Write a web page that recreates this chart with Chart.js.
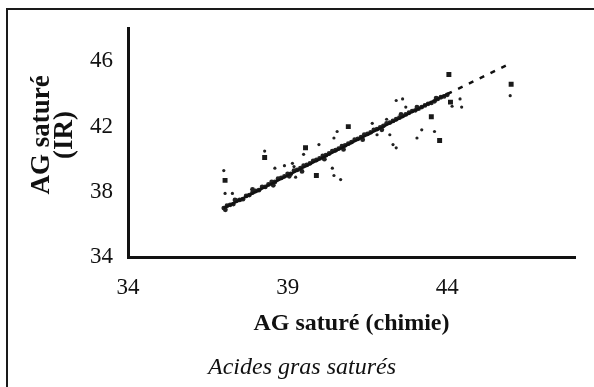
<!DOCTYPE html>
<html>
<head>
<meta charset="utf-8">
<script src="https://cdn.jsdelivr.net/npm/chart.js@4/dist/chart.umd.min.js"></script>
<style>
  body { margin: 0; background: #fff; }
  canvas { display: block; }
</style>
</head>
<body>
<canvas id="chart" width="594" height="387"></canvas>
<script>
// axis ticks
const xTicks = [34, 39, 44];
const yTicks = [34, 38, 42, 46];

// titles
const xTitle = 'AG saturé (chimie)';
const yTitle = ['AG saturé', '(IR)'];
const caption = 'Acides gras saturés';

// regression line (solid up to 44, dashed after)
const fitX = [37.0, 44.0, 45.9];
const fitY = [37.0, 44.0, 45.8];

// samples lying on the line
const bandX = [37.0, 37.05, 37.1, 37.2, 37.3, 37.35, 37.4, 37.5, 37.6, 37.7, 37.8, 37.9, 37.9, 38.0, 38.1, 38.2, 38.3, 38.4, 38.5, 38.55,
  38.6, 38.7, 38.8, 38.9, 39.0, 39.05, 39.1, 39.2, 39.3, 39.4, 39.45, 39.5, 39.6, 39.7, 39.8, 39.9, 40.0, 40.1, 40.15, 40.2,
  40.3, 40.4, 40.5, 40.6, 40.7, 40.75, 40.8, 40.9, 41.0, 41.1, 41.2, 41.3, 41.35, 41.4, 41.5, 41.6, 41.7, 41.8, 41.9, 41.95,
  42.0, 42.1, 42.2, 42.3, 42.4, 42.5, 42.55, 42.6, 42.7, 42.8, 42.9, 43.0, 43.05, 43.1, 43.2, 43.3, 43.4, 43.5, 43.6, 43.65,
  43.7, 43.8, 43.9, 44.0];
const bandY = [37.0, 36.9, 37.15, 37.2, 37.25, 37.5, 37.45, 37.5, 37.55, 37.75, 37.8, 37.95, 38.15, 38.05, 38.1, 38.3, 38.3, 38.45, 38.6, 38.4,
  38.6, 38.8, 38.85, 38.95, 39.1, 38.95, 39.1, 39.3, 39.35, 39.45, 39.25, 39.6, 39.65, 39.75, 39.9, 39.95, 40.05, 40.2, 40.0, 40.25,
  40.35, 40.5, 40.55, 40.65, 40.8, 40.6, 40.85, 40.95, 41.05, 41.2, 41.25, 41.35, 41.2, 41.5, 41.55, 41.65, 41.8, 41.85, 41.95, 41.8,
  42.05, 42.2, 42.25, 42.35, 42.45, 42.55, 42.75, 42.65, 42.75, 42.85, 42.95, 43.0, 43.2, 43.1, 43.2, 43.3, 43.4, 43.45, 43.55, 43.75,
  43.7, 43.8, 43.85, 43.95];

// scattered small dots
const dotX = [37.0, 37.04, 37.27, 38.28, 38.6, 38.9, 39.15, 39.2, 39.25, 39.5, 39.98, 40.4, 40.45, 40.66, 40.45, 40.55, 41.65, 41.8, 42.1, 42.2,
  42.3, 42.4, 42.4, 42.6, 42.7, 43.05, 43.2, 43.6, 44.15, 44.4, 44.45, 45.97];
const dotY = [39.3, 37.9, 37.9, 40.5, 39.45, 39.6, 39.75, 39.55, 38.9, 40.3, 40.9, 39.45, 39.0, 38.75, 41.3, 41.7, 42.2, 41.5, 42.45, 41.5,
  40.9, 40.7, 43.6, 43.7, 43.2, 41.3, 41.8, 41.7, 43.25, 43.7, 43.2, 43.9];

// scattered squares
const sqX = [37.04, 38.28, 39.56, 39.9, 40.9, 43.5, 43.76, 44.05, 44.1, 46.0];
const sqY = [38.7, 40.1, 40.7, 39.0, 42.0, 42.6, 41.15, 45.2, 43.5, 44.6];

const toPoints = (xs, ys) => xs.map((x, i) => ({ x: x, y: ys[i] }));

// frame round the figure, rotated y title and italic caption
const framePlugin = {
    id: 'frame',
    beforeDraw(chart) {
        const ctx = chart.ctx;
        ctx.save();
        ctx.fillStyle = '#fff';
        ctx.fillRect(0, 0, chart.width, chart.height);
        ctx.strokeStyle = '#1a1a1a';
        ctx.lineWidth = 2;
        ctx.beginPath();
        ctx.moveTo(594, 9);
        ctx.lineTo(7, 9);
        ctx.lineTo(7, 387);
        ctx.stroke();
        ctx.restore();
    },
    afterDraw(chart) {
        const ctx = chart.ctx;
        ctx.save();
        ctx.fillStyle = '#111';
        ctx.textAlign = 'center';
        ctx.textBaseline = 'middle';
        ctx.font = 'italic 24px "Liberation Serif"';
        ctx.fillText(caption, 302, 368);
        ctx.translate(0, 135);
        ctx.rotate(-Math.PI / 2);
        ctx.font = 'bold 27px "Liberation Serif"';
        ctx.fillText(yTitle[0], 0, 42);
        ctx.fillText(yTitle[1], 0, 65);
        ctx.restore();
    }
};

const ctx = document.getElementById('chart').getContext('2d');
new Chart(ctx, {
    type: 'scatter',
    data: {
        datasets: [
            {
                type: 'line',
                data: toPoints(fitX, fitY),
                borderColor: '#111',
                borderWidth: 2.5,
                pointRadius: 0,
                fill: false,
                segment: {
                    borderDash: c => c.p0DataIndex >= 1 ? [5, 7] : undefined
                }
            },
            {
                data: toPoints(bandX, bandY),
                backgroundColor: '#222',
                borderWidth: 0,
                pointRadius: 2.4
            },
            {
                data: toPoints(dotX, dotY),
                backgroundColor: '#222',
                borderWidth: 0,
                pointRadius: 1.6
            },
            {
                data: toPoints(sqX, sqY),
                pointStyle: 'rect',
                backgroundColor: '#1a1a1a',
                borderWidth: 0,
                pointRadius: 3.5
            }
        ]
    },
    options: {
        responsive: false,
        animation: false,
        devicePixelRatio: 1,
        layout: { padding: { top: 28, right: 19, left: 0, bottom: 32 } },
        plugins: {
            legend: { display: false },
            tooltip: { enabled: false }
        },
        scales: {
            x: {
                type: 'linear',
                min: 34,
                max: 48,
                grid: { display: false, drawTicks: false },
                border: { display: true, color: '#111', width: 3 },
                afterBuildTicks: s => { s.ticks = xTicks.map(v => ({ value: v })); },
                afterFit: s => { s.height = 98; },
                ticks: {
                    padding: 17,
                    color: '#111',
                    font: { family: 'Liberation Serif', size: 23 }
                },
                title: {
                    display: true,
                    text: xTitle,
                    color: '#111',
                    font: { family: 'Liberation Serif', size: 24, weight: 'bold', lineHeight: 1.2 },
                    padding: { top: 0, bottom: 17 }
                }
            },
            y: {
                type: 'linear',
                min: 34,
                max: 48,
                grid: { display: false, drawTicks: false },
                border: { display: true, color: '#111', width: 3 },
                afterBuildTicks: s => { s.ticks = yTicks.map(v => ({ value: v })); },
                afterFit: s => { s.width = 128; },
                ticks: {
                    padding: 15,
                    color: '#111',
                    font: { family: 'Liberation Serif', size: 23 }
                }
            }
        }
    },
    plugins: [framePlugin]
});
</script>
</body>
</html>
